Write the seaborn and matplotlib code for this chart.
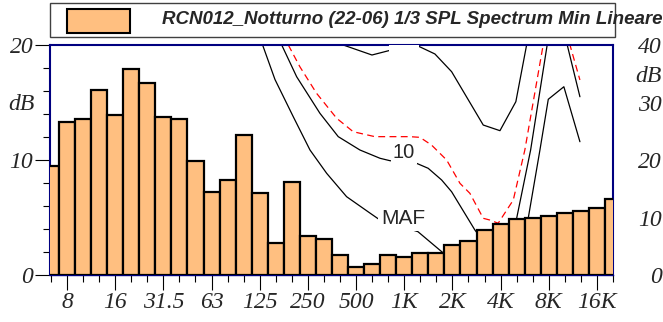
import matplotlib
matplotlib.use("Agg")
import matplotlib.pyplot as plt
import seaborn as sns
import pandas as pd
from matplotlib.patches import Rectangle
from matplotlib.ticker import MultipleLocator
import matplotlib.transforms as mtransforms

# 1/3 octave bands and measured levels (left axis, dB)
bands = ['6.3', '8', '10', '12.5', '16', '20', '25', '31.5', '40', '50', '63', '80',
         '100', '125', '160', '200', '250', '315', '400', '500', '630', '800', '1K',
         '1.25K', '1.6K', '2K', '2.5K', '3.15K', '4K', '5K', '6.3K', '8K', '10K',
         '12.5K', '16K', '20K']
spl = [9.5, 13.3, 13.6, 16.1, 13.9, 17.9, 16.7, 13.7, 13.6, 9.9, 7.2, 8.3,
       12.2, 7.1, 2.75, 8.1, 3.4, 3.15, 1.7, 0.7, 1.0, 1.75, 1.6,
       1.95, 1.95, 2.6, 3.0, 3.9, 4.4, 4.85, 4.95, 5.15, 5.4,
       5.6, 5.8, 6.6]
octave_labels = ['8', '16', '31.5', '63', '125', '250', '500', '1K', '2K', '4K', '8K', '16K']

# isophonic curves, x in band index, y in dB (left axis)
maf_x = [13.18, 13.95, 15.09, 16.13, 17.17, 18.41, 19.86, 20.49, 22.85, 24.33, 25.0, 26.0,
         27.0, 28.0, 29.0, 29.72, 30.45, 30.97, 31.94, 32.94]
maf_y = [20.0, 17.0, 13.76, 10.87, 8.84, 6.81, 5.39, 4.78, 3.77, 2.03, 1.3, 0.7,
         0.4, 1.0, 3.0, 4.93, 10.87, 15.28, 16.37, 11.59]
p10_x = [14.37, 15.30, 16.75, 17.89, 19.24, 20.49, 21.11, 22.77, 23.49, 24.33, 24.95, 26.40,
         27.0, 28.0, 29.0, 29.87, 30.90, 31.5, 32.15, 32.94]
p10_y = [20.0, 17.24, 14.06, 12.03, 10.87, 10.15, 9.94, 9.71, 9.28, 8.26, 7.24, 3.91,
         2.8, 2.4, 4.93, 10.87, 20.0, 24.0, 20.0, 15.5]
p20_x = [18.2, 19.99, 21.21, 22.0, 22.73, 23.91, 24.95, 26.92, 27.96, 28.95, 29.62]
p20_y = [20.0, 19.13, 19.57, 20.0, 20.0, 19.22, 17.68, 13.04, 12.55, 15.07, 20.0]
red_x = [14.78, 15.50, 16.54, 17.79, 18.82, 20.17, 22.35, 22.98, 23.70, 24.64, 25.47, 26.09,
         26.92, 27.33, 27.85, 28.79, 29.51, 30.65, 31.5, 32.32, 32.94]
red_y = [20.0, 18.11, 15.8, 13.63, 12.46, 12.03, 12.03, 11.97, 11.30, 10.0, 7.97, 7.1,
         4.93, 4.78, 4.50, 6.52, 10.87, 20.0, 26.0, 20.0, 16.96]

BAR = '#FFBF80'
NAVY = '#000080'

sns.set_style('ticks')
plt.rcParams['font.family'] = ['Liberation Serif', 'DejaVu Serif']
plt.rcParams['font.style'] = 'italic'

fig = plt.figure(figsize=(6.63, 3.22), dpi=100)
ax = fig.add_axes([50 / 663, 47 / 322, 563 / 663, 230 / 322])

df = pd.DataFrame({'band': bands, 'spl': spl})
sns.barplot(data=df, x='band', y='spl', order=bands, color=BAR, saturation=1,
            width=1.0, edgecolor='black', linewidth=1.6, ax=ax)
for p in ax.patches:
    p.set_zorder(3)

for cx, cy in [(maf_x, maf_y), (p10_x, p10_y), (p20_x, p20_y)]:
    sns.lineplot(x=cx, y=cy, sort=False, estimator=None, color='black',
                 linewidth=0.9, legend=False, ax=ax, zorder=2)
sns.lineplot(x=red_x, y=red_y, sort=False, estimator=None, color='red',
             linewidth=0.9, legend=False, ax=ax, zorder=2)
ax.lines[-1].set_dashes([5.5, 3.5])

sans = dict(family='Liberation Sans', style='normal')
ax.text(21.97, 10.65, '10', ha='center', va='center', fontsize=14.5, zorder=2.6,
        bbox=dict(boxstyle='square,pad=0.1', fc='white', ec='none'), **sans)
ax.text(21.94, 4.93, 'MAF', ha='center', va='center', fontsize=15, zorder=2.6,
        bbox=dict(boxstyle='square,pad=0.15', fc='white', ec='none'), **sans)
ax.text(22.0, 20.6, '20', ha='center', va='center', fontsize=14.5, zorder=2.7,
        clip_on=True, bbox=dict(boxstyle='square,pad=0.2', fc='white', ec='none'), **sans)

ax.set_xlim(-0.06, 35.0)
ax.set_ylim(0, 20)
ax.set_xlabel('')
ax.set_ylabel('')
oct_pos = [bands.index(b) for b in octave_labels]
ax.set_xticks(range(len(bands)), minor=True)
ax.set_xticks(oct_pos, labels=octave_labels)
ax.set_yticks([0, 10, 20])
ax.yaxis.set_minor_locator(MultipleLocator(2))
ax.tick_params(axis='both', which='major', length=11, width=0.8, color='black',
               labelsize=17, pad=1, bottom=True, left=True)
ax.tick_params(axis='both', which='minor', length=5, width=0.8, color='black',
               bottom=True, left=True)

for side in ['top', 'left', 'right']:
    ax.spines[side].set_color(NAVY)
    ax.spines[side].set_linewidth(1.5)
ax.spines['bottom'].set_color(NAVY)
ax.spines['bottom'].set_linewidth(1.0)

trans = mtransforms.blended_transform_factory(ax.transAxes, ax.transData)
ax.text(-15 / 563, 14.8, 'dB', transform=trans, ha='right', va='center', fontsize=17)

ax2 = ax.twinx()
ax2.set_ylim(0, 40)
ax2.set_yticks([0, 10, 20, 30, 35, 40], labels=['0', '10', '20', '30', 'dB', '40'])
ax2.tick_params(axis='y', length=0, pad=35.3, labelsize=17)
for t in ax2.get_yticklabels():
    t.set_horizontalalignment('right')
for s in ax2.spines.values():
    s.set_visible(False)

# legend box on top
fig.patches.append(Rectangle((50 / 663, 1 - 37.4 / 322), 565 / 663, 34 / 322,
                             transform=fig.transFigure, fc='white', ec='#404040', lw=1))
fig.patches.append(Rectangle((67 / 663, 1 - 33 / 322), 63 / 663, 23.6 / 322,
                             transform=fig.transFigure, fc=BAR, ec='black', lw=1.5))
fig.text(161.5 / 663, 1 - 20 / 322, 'RCN012_Notturno (22-06) 1/3 SPL Spectrum Min Lineare',
         ha='left', va='center', fontsize=13.5, weight='bold',
         family='Liberation Sans', style='italic')

fig.savefig('out.png', dpi=100)
